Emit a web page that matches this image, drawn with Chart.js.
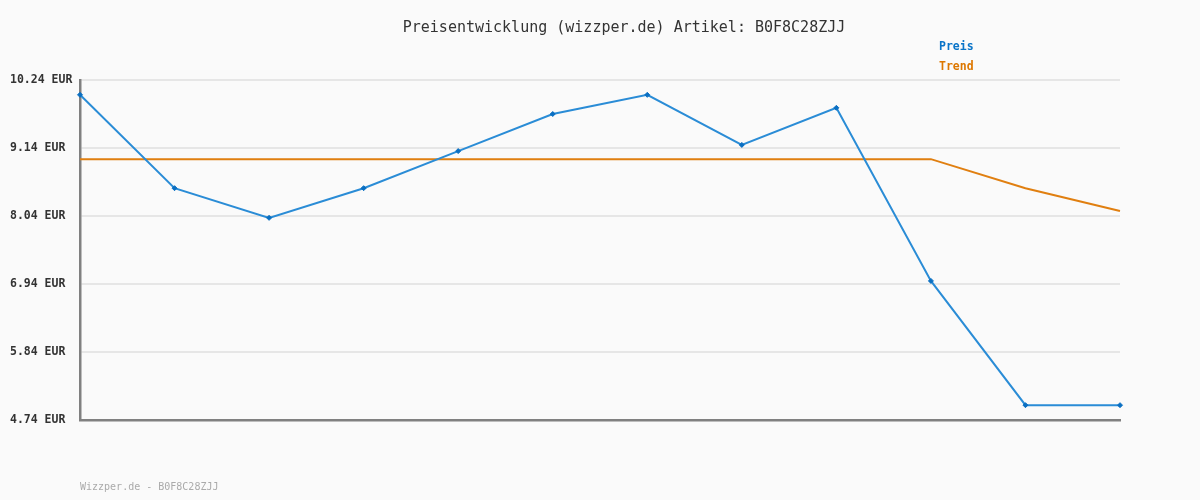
<!DOCTYPE html>
<html>
<head>
<meta charset="utf-8">
<script src="https://cdn.jsdelivr.net/npm/chart.js@4/dist/chart.umd.min.js"></script>
<style>
  html, body { margin: 0; padding: 0; background: #fafafa; }
  #wrap { width: 1200px; height: 500px; position: relative; }
</style>
</head>
<body>
<div id="wrap"><canvas id="chart" width="1200" height="500"></canvas></div>
<script>
// Werte
const categories = ["1", "2", "3", "4", "5", "6", "7", "8", "9", "10", "11", "12"]
const preis = [10.00, 8.49, 8.01, 8.49, 9.09, 9.69, 10.00, 9.19, 9.79, 6.99, 4.98, 4.98]
const trend = [8.96, 8.96, 8.96, 8.96, 8.96, 8.96, 8.96, 8.96, 8.96, 8.96, 8.49, 8.12]
const tickValues = [4.74, 5.84, 6.94, 8.04, 9.14, 10.24]

const titleText = "Preisentwicklung (wizzper.de) Artikel: B0F8C28ZJJ"
const footerText = "Wizzper.de - B0F8C28ZJJ"
const mono = '"DejaVu Sans Mono", "Liberation Mono", monospace'

const textPlugin = {
  id: "wizzperText",
  afterDraw: (chart) => {
    const { ctx } = chart
    ctx.save()
    ctx.textBaseline = "middle"

    ctx.fillStyle = "#333333"
    ctx.font = `15px ${mono}`
    ctx.textAlign = "center"
    ctx.fillText(titleText, 624, 28)

    ctx.textAlign = "left"
    ctx.font = `bold 11.5px ${mono}`
    chart.data.datasets.forEach((ds, i) => {
      ctx.fillStyle = ds.legendColor
      ctx.fillText(ds.label, 939, 47 + i * 20)
    })

    ctx.fillStyle = "#aaaaaa"
    ctx.font = `10px ${mono}`
    ctx.fillText(footerText, 80, 487)
    ctx.restore()
  },
}

new Chart(document.getElementById("chart"), {
  type: "line",
  data: {
    labels: categories,
    datasets: [
      {
        label: "Preis",
        data: preis,
        borderColor: "#2a8cd6",
        borderWidth: 2,
        pointStyle: "rectRot",
        pointRadius: 2.5,
        pointBackgroundColor: "#0a6fc2",
        pointBorderColor: "#0a6fc2",
        pointBorderWidth: 1,
        tension: 0,
        legendColor: "#0a74c8",
        order: 1,
      },
      {
        label: "Trend",
        data: trend,
        borderColor: "#e07f10",
        borderWidth: 2,
        pointRadius: 0,
        tension: 0,
        legendColor: "#dd7700",
        order: 2,
      },
    ],
  },
  options: {
    responsive: false,
    animation: false,
    layout: { padding: { top: 80, left: 10, right: 80, bottom: 80 } },
    scales: {
      x: {
        offset: false,
        grid: { display: false, drawTicks: false },
        ticks: { display: false },
        border: { display: true, color: "#808080", width: 2.5 },
        afterFit: (s) => { s.height = 0 },
      },
      y: {
        min: 4.74,
        max: 10.24,
        afterBuildTicks: (s) => { s.ticks = tickValues.map((v) => ({ value: v })) },
        afterFit: (s) => { s.width = 70 },
        grid: { color: "#e6e6e6", lineWidth: 2, drawTicks: false },
        border: { display: true, color: "#808080", width: 2.5 },
        ticks: {
          crossAlign: "far",
          padding: 8,
          color: "#333333",
          font: { family: mono, size: 11.5, weight: "bold" },
          callback: (value) => `${Number(value).toFixed(2)} EUR`,
        },
      },
    },
    plugins: {
      legend: { display: false },
      title: { display: false },
      tooltip: { enabled: false },
    },
  },
  plugins: [textPlugin],
})
</script>
</body>
</html>
